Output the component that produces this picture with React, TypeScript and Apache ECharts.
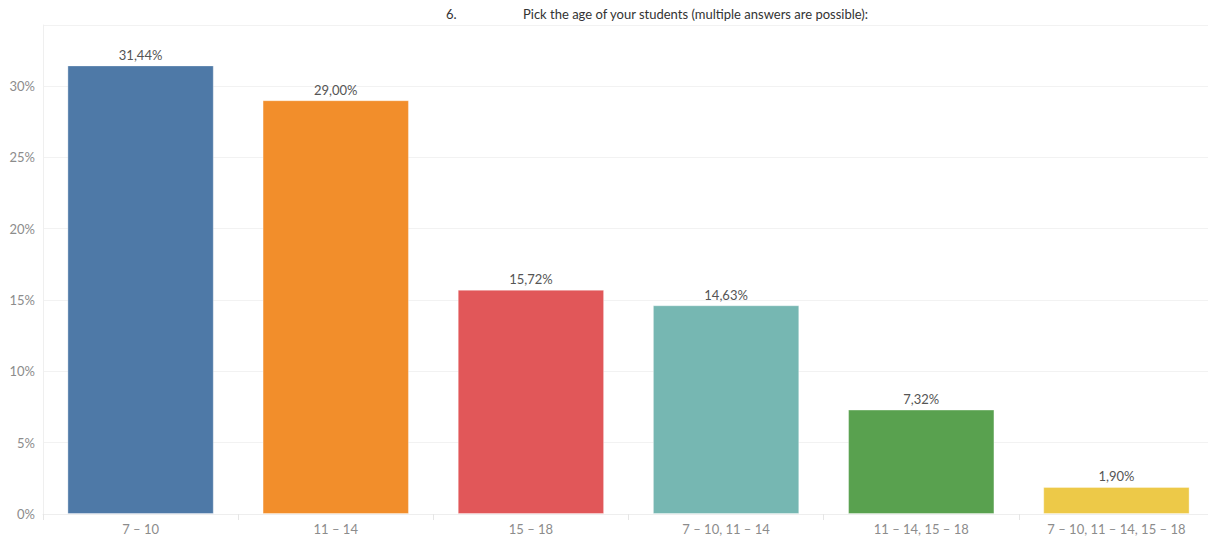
import React, { useEffect, useRef } from "react";
import * as echarts from "echarts";

const categories = ["7 – 10", "11 – 14", "15 – 18", "7 – 10, 11 – 14", "11 – 14, 15 – 18", "7 – 10, 11 – 14, 15 – 18"];
const values = [31.44, 29.0, 15.72, 14.63, 7.32, 1.9];
const colors = ["#4e79a7", "#f28e2b", "#e15759", "#76b7b2", "#59a14f", "#edc948"];
const titleNumber = "6.";
const titleText = "Pick the age of your students (multiple answers are possible):";

const FONT = "Lato, 'Noto Sans', sans-serif";

export default function App() {
  const ref = useRef<HTMLDivElement>(null);
  useEffect(() => {
    if (!ref.current) return;
    const chart = echarts.init(ref.current, undefined, { renderer: "svg" });
    chart.setOption({
      animation: false,
      backgroundColor: "#ffffff",
      textStyle: { fontFamily: FONT },
      graphic: [
        { type: "text", left: 446, top: 7, style: { text: titleNumber, font: `13px ${FONT}`, fill: "#333333" } },
        { type: "text", left: 523, top: 7, style: { text: titleText, font: `13px ${FONT}`, fill: "#333333" } },
      ],
      grid: { left: 43, top: 25, right: 0, bottom: 23, containLabel: false },
      xAxis: {
        type: "category",
        data: categories,
        axisLine: { show: true, lineStyle: { color: "#eeeeee", width: 1 } },
        axisTick: { show: true, length: 6, lineStyle: { color: "#e6e6e6" } },
        axisLabel: { color: "#8c8c8c", fontSize: 13, margin: 8, fontFamily: FONT },
      },
      yAxis: {
        type: "value",
        min: 0,
        max: 34.27,
        interval: 5,
        axisLine: { show: true, lineStyle: { color: "#efefef" } },
        axisTick: { show: false },
        splitLine: { show: true, lineStyle: { color: "#f2f2f2" } },
        axisLabel: {
          color: "#8c8c8c",
          fontSize: 13,
          margin: 8,
          fontFamily: FONT,
          showMaxLabel: false,
          formatter: (v: number) => `${v}%`,
        },
      },
      series: [
        {
          type: "bar",
          data: values.map((v, i) => ({
            value: v,
            itemStyle: { color: colors[i], borderColor: "rgba(255,255,255,0.35)", borderWidth: 1 },
          })),
          barWidth: "75%",
          label: {
            show: true,
            position: "top",
            distance: 4,
            color: "#555555",
            fontSize: 13,
            fontFamily: FONT,
            formatter: (p: any) => p.value.toFixed(2).replace(".", ",") + "%",
          },
        },
      ],
    });
    return () => chart.dispose();
  }, []);
  return (
    <div style={{ position: "fixed", left: 0, top: 0, width: 1208, height: 537, overflow: "hidden", background: "#fff" }}>
      <div ref={ref} style={{ position: "absolute", left: 0, top: 0, width: 1214, height: 537 }} />
    </div>
  );
}
